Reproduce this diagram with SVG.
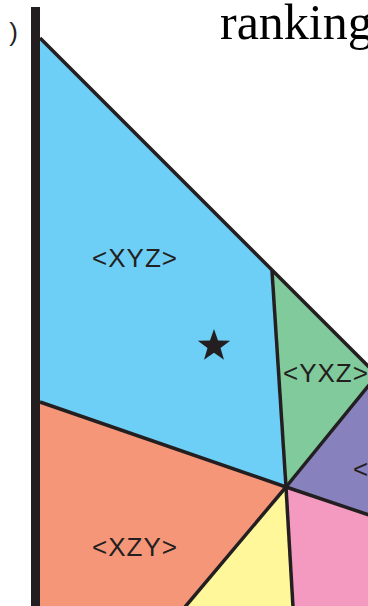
<svg xmlns="http://www.w3.org/2000/svg" width="368" height="606" viewBox="0 0 368 606">
<style>
.lbl{font-family:"Liberation Sans",Arial,sans-serif;font-size:26px;fill:#231f20;letter-spacing:1px}
.edge{stroke:#231f20;stroke-width:3.5;fill:none;stroke-linecap:butt}
</style>
<rect width="368" height="606" fill="#ffffff"/>
<g id="region-xyz">
<polygon points="40,38 272,271 286,487 40,402" fill="#6dcff6"/>
<text class="lbl" x="135" y="267" text-anchor="middle">&lt;XYZ&gt;</text>
</g>
<g id="region-yxz">
<polygon points="272,271 368,367 368,386 286,487" fill="#80ca9c"/>
<text class="lbl" x="283" y="382">&lt;YXZ&gt;</text>
</g>
<g id="region-yzx">
<polygon points="286,487 368,386 368,515" fill="#8781bd"/>
<text class="lbl" x="353" y="478">&lt;</text>
</g>
<g id="region-zyx">
<polygon points="286,487 368,515 368,606 293,606" fill="#f49ac1"/>
</g>
<g id="region-zxy">
<polygon points="286,487 293,606 186,606" fill="#fff799"/>
</g>
<g id="region-xzy">
<polygon points="40,402 286,487 186,606 40,606" fill="#f69679"/>
<text class="lbl" x="135" y="556" text-anchor="middle">&lt;XZY&gt;</text>
</g>
<g id="connectors">
<line class="edge" x1="40" y1="38" x2="369" y2="367"/>
<line class="edge" x1="272" y1="271" x2="286" y2="487"/>
<line class="edge" x1="40" y1="402" x2="286" y2="487"/>
<line class="edge" x1="286" y1="487" x2="369" y2="385"/>
<line class="edge" x1="286" y1="487" x2="369" y2="515"/>
<line class="edge" x1="286" y1="487" x2="293" y2="607"/>
<line class="edge" x1="286" y1="487" x2="185" y2="607"/>
</g>
<g id="axis">
<rect x="31" y="7" width="9" height="599" fill="#231f20"/>
</g>
<g id="star">
<polygon points="214,329 218,340.5 230.2,340.7 220.5,348.1 224,359.8 214,352.8 204,359.8 207.5,348.1 197.8,340.7 210,340.5" fill="#231f20"/>
</g>
<text x="18" y="41" text-anchor="end" style="font-family:'Liberation Sans',Arial,sans-serif;font-size:26px;fill:#231f20">)</text>
<text x="220" y="39" style="font-family:'Liberation Serif','Times New Roman',serif;font-size:50px;fill:#000000">ranking</text>
</svg>
